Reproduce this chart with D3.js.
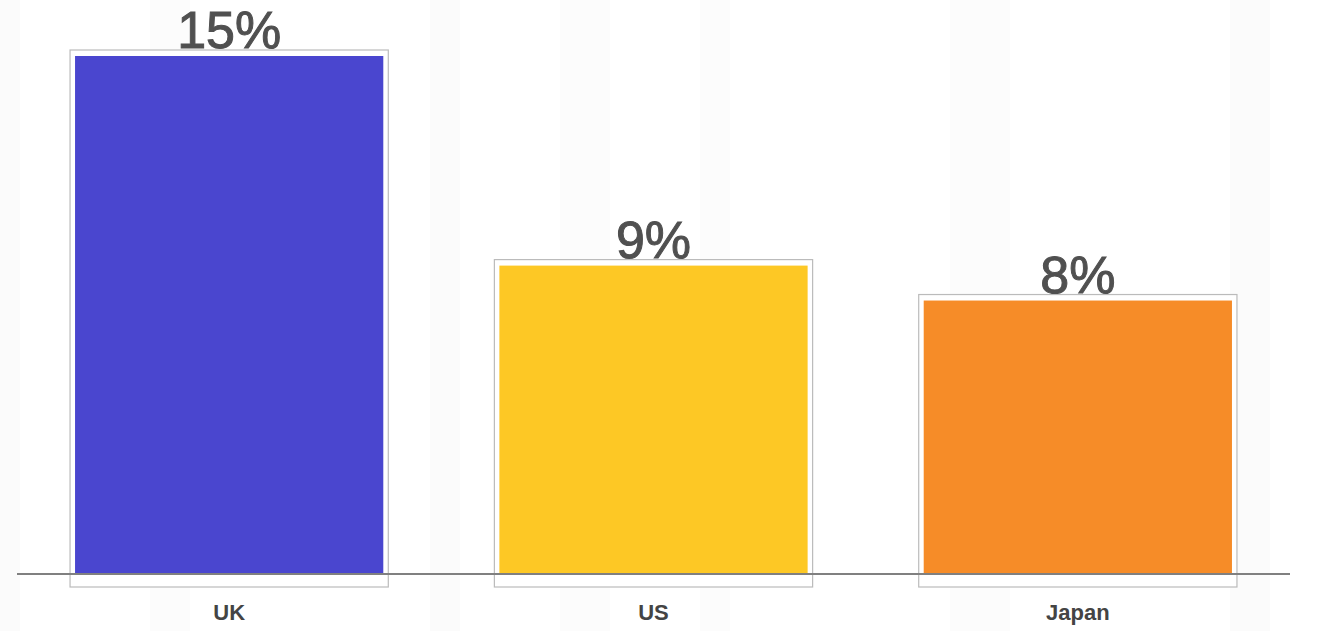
<!DOCTYPE html>
<html>
<head>
<meta charset="utf-8">
<script src="https://cdn.jsdelivr.net/npm/d3@7/dist/d3.min.js"></script>
<style>
html,body{margin:0;padding:0;background:#fff;}
svg{display:block;}
</style>
</head>
<body>
<svg id="chart" width="1330" height="631"></svg>
<script>
const categories = ["UK", "US", "Japan"];
const values = [15, 9, 8];
const valueLabels = ["15%", "9%", "8%"];
const colors = ["#4a46cf", "#fdc825", "#f68c28"];

const W = 1330, H = 631;
const baseY = 574;
const svg = d3.select("#chart");

// faint background stripes
const stripes = [[0,20,0.015],[150,40,0.012],[430,30,0.015],[560,50,0.01],[700,30,0.01],[950,60,0.012],[1230,40,0.015]];
svg.selectAll("rect.bg").data(stripes).enter().append("rect")
  .attr("x", d=>d[0]).attr("y",0).attr("width",d=>d[1]).attr("height",H)
  .attr("fill","#000").attr("opacity",d=>d[2]);

const x = d3.scaleBand().domain(categories).range([17, 1290]).paddingInner(0.25).paddingOuter(0.125);
const y = d3.scaleLinear().domain([0, 15]).range([baseY, 50]);

const data = categories.map((c,i)=>({c, v:values[i], label:valueLabels[i], color:colors[i]}));

// outline boxes
svg.selectAll("rect.box").data(data).enter().append("rect")
  .attr("x", d=>x(d.c)).attr("y", d=>y(d.v))
  .attr("width", x.bandwidth()).attr("height", d=>baseY - y(d.v) + 13)
  .attr("fill", "#fff").attr("stroke", "#bbb").attr("stroke-width", 1.2);

// filled bars
svg.selectAll("rect.bar").data(data).enter().append("rect")
  .attr("x", d=>x(d.c)+5).attr("y", d=>y(d.v)+6)
  .attr("width", x.bandwidth()-10).attr("height", d=>baseY - y(d.v) - 6)
  .attr("fill", d=>d.color);

// axis line
svg.append("line").attr("x1",17).attr("x2",1290).attr("y1",baseY).attr("y2",baseY)
  .attr("stroke","#808080").attr("stroke-width",2);

// value labels
svg.selectAll("text.val").data(data).enter().append("text")
  .attr("x", d=>x(d.c)+x.bandwidth()/2).attr("y", d=>y(d.v)-2)
  .attr("text-anchor","middle")
  .attr("font-family","Liberation Sans, Arial, sans-serif")
  .attr("font-size",52).attr("fill","#505050")
  .attr("stroke","#505050").attr("stroke-width",1)
  .text(d=>d.label);

// category labels
svg.selectAll("text.cat").data(data).enter().append("text")
  .attr("x", d=>x(d.c)+x.bandwidth()/2).attr("y", 620)
  .attr("text-anchor","middle")
  .attr("font-family","Liberation Sans Narrow, Liberation Sans, Arial, sans-serif")
  .attr("font-weight","bold")
  .attr("font-size",22).attr("fill","#444")
  .text(d=>d.c);
</script>
</body>
</html>
